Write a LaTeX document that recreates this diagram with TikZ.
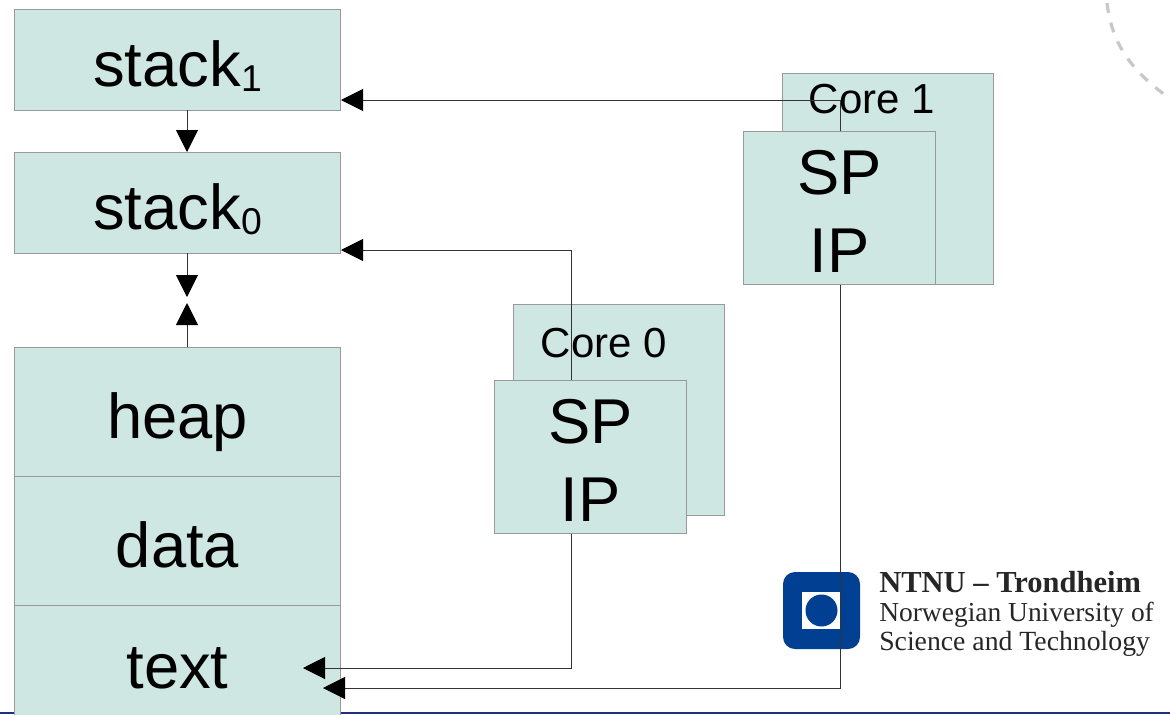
\documentclass[tikz,border=0pt]{standalone}
\usepackage{fontspec}
\setmainfont{Liberation Sans}
\newfontfamily\logofont{Liberation Serif}
\usetikzlibrary{arrows.meta}
\definecolor{boxfill}{HTML}{CFE7E3}
\definecolor{boxline}{HTML}{999999}
\definecolor{ntnublue}{HTML}{003F91}
\definecolor{rulenavy}{HTML}{1F2F7F}
\definecolor{wirecol}{HTML}{333333}
\definecolor{arcgray}{HTML}{C8C8C8}
\tikzset{
  membox/.style={draw=boxline,fill=boxfill,line width=.7pt,inner sep=0pt,outer sep=0pt,
    minimum width=244.5pt,align=center,text height=41pt,text depth=0pt,
    font=\fontsize{47.5}{58.5}\selectfont},
  corebox/.style={membox,minimum width=144.25pt,minimum height=115pt,text height=96.5pt},
  backbox/.style={draw=boxline,fill=boxfill,line width=.7pt,inner sep=0pt,outer sep=0pt,
    minimum width=158.5pt,minimum height=158.5pt},
  corelabel/.style={font=\fontsize{31.5}{36}\selectfont,inner sep=0pt},
  wire/.style={draw=wirecol,line width=.75pt,
    -{Triangle[length=16.5pt,width=16.5pt,color=black]}},
  logotext/.style={anchor=base west,inner sep=0pt,text=black!85}
}
\newcommand{\lowidx}[1]{{\fontsize{28}{28}\selectfont\raisebox{-3.5pt}{#1}}}
\begin{document}
\begin{tikzpicture}[x=.75pt,y=-.75pt]
\useasboundingbox (0,0) rectangle (1170,714);
\clip (0,0) rectangle (1170,714);
% bottom rule and corner arc
\draw[rulenavy,line width=1.5pt] (0,713) -- (1170,713);
\draw[arcgray,line width=2.4pt,dash pattern=on 7.5pt off 7.5pt]
  (1107,3) .. controls (1112,45) and (1132,72) .. (1172,100);
% logo
\fill[ntnublue,rounded corners=9pt] (783,572) rectangle (860,649);
\fill[white] (802,592) rectangle (841,629);
\fill[ntnublue] (821.5,610.5) circle [radius=12pt];
\node[logotext,font=\logofont\bfseries\fontsize{22.9}{26}\selectfont] (logoa) at (879,592) {NTNU – Trondheim};
\node[logotext,font=\logofont\fontsize{20.6}{24}\selectfont] (logob) at (879,621) {Norwegian University of};
\node[logotext,font=\logofont\fontsize{20.8}{24}\selectfont] (logoc) at (879,650) {Science and Technology};

% memory segments
\node[membox,minimum height=75.75pt] (stacka) at (177.5,59.5) {stack\lowidx{1}};
\node[membox,minimum height=75.75pt] (stackb) at (177.5,202.5) {stack\lowidx{0}};
\node[membox,minimum height=96.75pt] (heap) at (177.5,411.5) {heap};
\node[membox,minimum height=96.75pt] (data) at (177.5,540.5) {data};
\node[membox,minimum height=84pt] (text) at (177.5,661) {text};

% core 0
\node[backbox] (backb) at (619,410) {};
\node[corelabel] (labelb) at (604,343) {Core 0};
\node[corebox] (coreb) at (590.5,457) {SP\\IP};
% core 1
\node[backbox] (backa) at (888,179) {};
\node[corelabel] (labela) at (872,99) {Core 1};
\node[corebox] (corea) at (839.5,208) {SP\\IP};

% stack arrows
\coordinate (growa) at (187,297);
\coordinate (growb) at (187,303);
\draw[wire] (187,110) -- (187,152);
\draw[wire] (187,253) -- (growa);
\draw[wire] (187,347) -- (growb);

% stack pointers
\coordinate (spa) at (840,100);
\coordinate (spb) at (571,250);
\draw[wire] (coreb.north -| spb) -- (spb) -- (341,250);
\draw[wire] (corea.north -| spa) -- (spa) -- (341,100);

% instruction pointers
\coordinate (ipa) at (840,688);
\coordinate (ipb) at (571,668);
\coordinate (enda) at (323,688);
\coordinate (endb) at (303,668);
\draw[wire] (coreb.south -| ipb) -- (ipb) -- (endb);
\draw[wire] (corea.south -| ipa) -- (ipa) -- (enda);
\end{tikzpicture}
\end{document}
